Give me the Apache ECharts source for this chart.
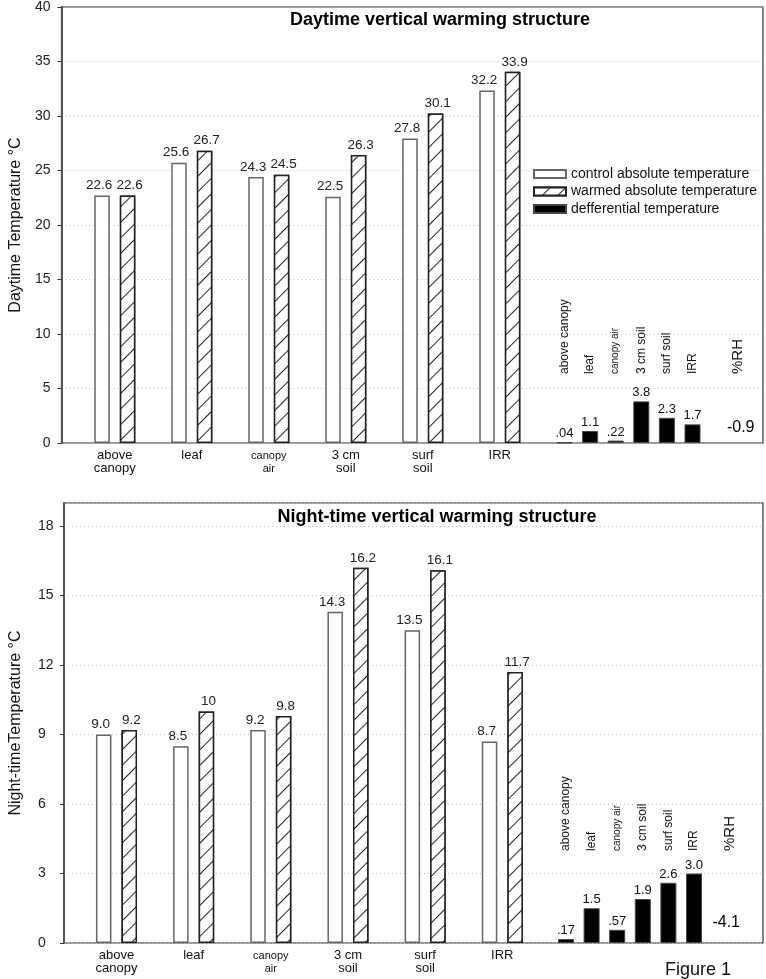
<!DOCTYPE html>
<html><head><meta charset="utf-8">
<script src="https://cdn.jsdelivr.net/npm/echarts@6/dist/echarts.min.js"></script>
<style>html,body{margin:0;padding:0;background:#fff}#c{width:766px;height:979px}</style>
</head><body><div id="c"></div>
<script>
// ---- data ----
const categories = ['above canopy', 'leaf', 'canopy air', '3 cm soil', 'surf soil', 'IRR'];
const seriesNames = ['control absolute temperature', 'warmed absolute temperature', 'defferential temperature'];
const rhName = '%RH';

const dayControl = [22.6, 25.6, 24.3, 22.5, 27.8, 32.2];
const dayWarmed = [22.6, 26.7, 24.5, 26.3, 30.1, 33.9];
const dayDiff = [0.04, 1.1, 0.22, 3.8, 2.3, 1.7];
const dayRH = -0.9;
const dayControlLabels = ['22.6', '25.6', '24.3', '22.5', '27.8', '32.2'];
const dayWarmedLabels = ['22.6', '26.7', '24.5', '26.3', '30.1', '33.9'];
const dayDiffLabels = ['.04', '1.1', '.22', '3.8', '2.3', '1.7'];
const dayRHLabel = '-0.9';

const nightControl = [9.0, 8.5, 9.2, 14.3, 13.5, 8.7];
const nightWarmed = [9.2, 10, 9.8, 16.2, 16.1, 11.7];
const nightDiff = [0.17, 1.5, 0.57, 1.9, 2.6, 3.0];
const nightRH = -4.1;
const nightControlLabels = ['9.0', '8.5', '9.2', '14.3', '13.5', '8.7'];
const nightWarmedLabels = ['9.2', '10', '9.8', '16.2', '16.1', '11.7'];
const nightDiffLabels = ['.17', '1.5', '.57', '1.9', '2.6', '3.0'];
const nightRHLabel = '-4.1';

const dayTicks = { min: 0, max: 40, interval: 5 };
const nightTicks = { min: 0, max: 19, interval: 3 };

// ---- layout / style ----
const FONT = 'Liberation Sans, Arial, Helvetica, sans-serif';
const charts = [
  {
    title: 'Daytime vertical warming structure', titleX: 440, titleY: 11,
    frame: { left: 56, top: 5, width: 707, height: 438 },
    main: { left: 76.3, width: 462 }, diff: { left: 551.7, width: 204.8 },
    labelTop: 376, ticks: dayTicks, yName: 'Daytime Temperature \u00B0C', nameGap: 35,
    tickAlign: 'right', tickMargin: 11,
    control: dayControl, warmed: dayWarmed, dd: dayDiff, rh: dayRH,
    cl: dayControlLabels, wl: dayWarmedLabels, dl: dayDiffLabels, rl: dayRHLabel,
    rhOffset: [-3, 0], rhDist: 7, rhPad: 12
  },
  {
    title: 'Night-time vertical warming structure', titleX: 437, titleY: 508,
    frame: { left: 61, top: 503, width: 702, height: 440 },
    main: { left: 77.9, width: 463 }, diff: { left: 553.2, width: 204.8 },
    labelTop: 853, ticks: nightTicks, yName: 'Night-timeTemperature \u00B0C', nameGap: 40,
    tickAlign: 'left', tickMargin: 26,
    control: nightControl, warmed: nightWarmed, dd: nightDiff, rh: nightRH,
    cl: nightControlLabels, wl: nightWarmedLabels, dl: nightDiffLabels, rl: nightRHLabel,
    rhOffset: [-19, 0], rhDist: 12, rhPad: 30
  }
];

const hatch = {
  symbol: 'rect', symbolSize: 1, color: '#222', backgroundColor: '#fff',
  dashArrayX: [1, 0], dashArrayY: [0.8, 9.6], rotation: -Math.PI / 4
};

const option = {
  animation: false,
  backgroundColor: '#fff',
  textStyle: { fontFamily: FONT, color: '#111' },
  title: [], grid: [], xAxis: [], yAxis: [], series: [],
  legend: {
    data: seriesNames, orient: 'vertical', left: 533, top: 167, padding: 0,
    itemWidth: 32, itemHeight: 8, itemGap: 3.5, icon: 'rect', selectedMode: false,
    textStyle: { fontSize: 14, color: '#111', fontFamily: FONT }
  },
  graphic: [{ type: 'text', left: 665, top: 961, style: { text: 'Figure 1', fontSize: 18, fill: '#111', fontFamily: FONT } }]
};

charts.forEach((c) => {
  option.title.push({
    text: c.title, left: c.titleX, top: c.titleY, textAlign: 'center', padding: 0,
    textStyle: { fontSize: 18, fontWeight: 'bold', color: '#000', fontFamily: FONT }
  });
  const f = c.frame;
  const gF = option.grid.length;
  // frame grid
  option.grid.push({ left: f.left, top: f.top, width: f.width, height: f.height, show: true, borderColor: '#333', borderWidth: 1.2, backgroundColor: 'transparent' });
  option.xAxis.push({ gridIndex: gF, type: 'value', min: 0, max: 1, show: false });
  option.yAxis.push({
    gridIndex: gF, type: 'value', min: c.ticks.min, max: c.ticks.max, interval: c.ticks.interval,
    axisLine: { show: true, lineStyle: { color: '#555', width: 2 } },
    axisTick: { show: true, length: 4, lineStyle: { color: '#333' } },
    axisLabel: { fontSize: 14, color: '#222', margin: c.tickMargin, align: c.tickAlign, showMaxLabel: c.ticks.max % c.ticks.interval === 0 },
    splitLine: { show: true, lineStyle: { color: '#bbb', type: [1, 3], width: 1 } },
    name: c.yName, nameLocation: 'middle', nameGap: c.nameGap,
    nameTextStyle: { fontSize: 16, color: '#111', fontFamily: FONT }
  });
  // main grid
  const gM = option.grid.length;
  option.grid.push({ left: c.main.left, top: f.top, width: c.main.width, height: f.height });
  option.xAxis.push({
    gridIndex: gM, type: 'category', data: categories,
    axisLine: { show: false }, axisTick: { show: false },
    axisLabel: {
      interval: 0, margin: 6, fontSize: 13, lineHeight: 13, color: '#111',
      formatter: (v) => {
        const i = v.lastIndexOf(' ');
        const t = i > 0 ? v.slice(0, i) + '\n' + v.slice(i + 1) : v;
        return v === 'canopy air' ? t.split('\n').map(s => '{s|' + s + '}').join('\n') : t;
      },
      rich: { s: { fontSize: 11, lineHeight: 13, color: '#111' } }
    }
  });
  option.yAxis.push({ gridIndex: gM, type: 'value', min: c.ticks.min, max: c.ticks.max, show: false, splitLine: { show: false } });
  const valLabel = (arr, dx) => ({ show: true, position: 'top', distance: 3, offset: [dx, 0], fontSize: 13.5, color: '#222', formatter: (p) => arr[p.dataIndex] });
  option.series.push({
    name: seriesNames[0], type: 'bar', xAxisIndex: gM, yAxisIndex: gM, data: c.control,
    barWidth: 15.5, barGap: '65%',
    itemStyle: { color: '#fff', borderColor: '#666', borderWidth: 1.5 },
    label: valLabel(c.cl, -3)
  });
  option.series.push({
    name: seriesNames[1], type: 'bar', xAxisIndex: gM, yAxisIndex: gM, data: c.warmed,
    barWidth: 15.5, barGap: '65%',
    itemStyle: { color: '#fff', borderColor: '#222', borderWidth: 1.5, decal: hatch },
    label: valLabel(c.wl, 2)
  });
  // differential grid
  const gD = option.grid.length;
  const diffCats = categories.concat(['', rhName]);
  option.grid.push({ left: c.diff.left, top: f.top, width: c.diff.width, height: f.height });
  option.xAxis.push({ gridIndex: gD, type: 'category', data: diffCats, show: false });
  option.yAxis.push({ gridIndex: gD, type: 'value', min: c.ticks.min, max: c.ticks.max, show: false, splitLine: { show: false } });
  option.series.push({
    name: seriesNames[2], type: 'bar', xAxisIndex: gD, yAxisIndex: gD, data: c.dd,
    barWidth: 16,
    itemStyle: { color: '#000', borderColor: '#444', borderWidth: 1 },
    label: { show: true, position: 'top', distance: 2, fontSize: 13, color: '#111', formatter: (p) => c.dl[p.dataIndex] }
  });
  option.series.push({
    name: rhName, type: 'scatter', xAxisIndex: gD, yAxisIndex: gD, data: [[7, 0]],
    symbolSize: 0, silent: true, itemStyle: { opacity: 1, color: '#000' },
    label: { show: true, position: 'top', distance: c.rhDist, offset: c.rhOffset, fontSize: 16, color: '#000', opacity: 1, formatter: () => c.rl }
  });
  // rotated label grid
  const gL = option.grid.length;
  option.grid.push({ left: c.diff.left, top: c.labelTop, width: c.diff.width, height: 10 });
  option.xAxis.push({
    gridIndex: gL, type: 'category', position: 'top',
    data: diffCats.map((v) => {
      if (v === 'canopy air') return { value: v, textStyle: { fontSize: 10 } };
      if (v === rhName) return { value: v, textStyle: { fontSize: 15 } };
      return v;
    }),
    axisLine: { show: false }, axisTick: { show: false },
    axisLabel: {
      interval: 0, rotate: 90, margin: 2, fontSize: 12, color: '#111',
      formatter: (v) => v === rhName ? '{rh|' + v + '}' : v,
      rich: { rh: { fontSize: 15, color: '#111', padding: [0, 0, c.rhPad, 0] } }
    }
  });
  option.yAxis.push({ gridIndex: gL, type: 'value', show: false, splitLine: { show: false } });
});

const chart = echarts.init(document.getElementById('c'), null, { renderer: 'canvas' });
chart.setOption(option);
</script>
</body></html>
